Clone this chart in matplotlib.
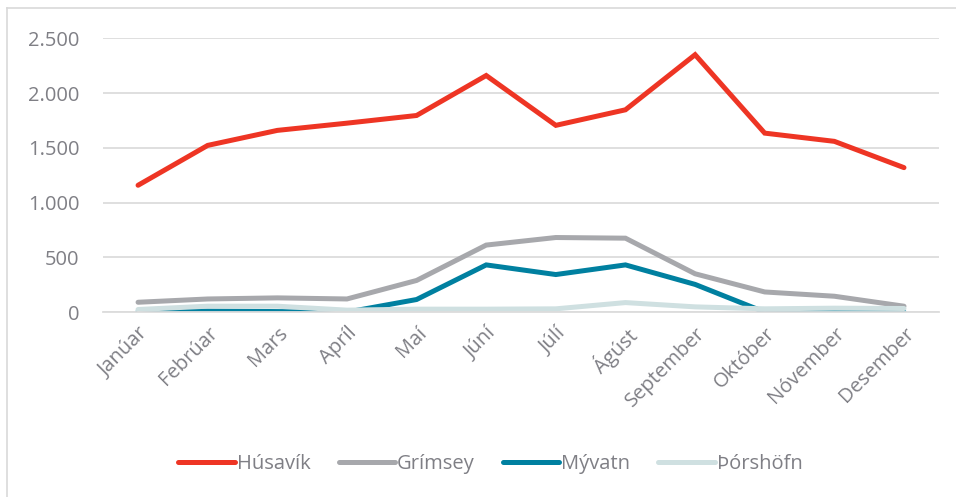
import matplotlib.pyplot as plt
from matplotlib.lines import Line2D
from matplotlib.ticker import FuncFormatter

# Monthly values for each place
months = ['Janúar', 'Febrúar', 'Mars', 'Apríl', 'Maí', 'Júní', 'Júlí',
          'Ágúst', 'September', 'Október', 'Nóvember', 'Desember']
husavik = [1158, 1522, 1659, 1725, 1795, 2160, 1705, 1847, 2350, 1634, 1559, 1319]
grimsey = [90, 120, 130, 120, 289, 612, 681, 675, 350, 184, 145, 54]
myvatn = [5, 10, 5, 0, 115, 431, 343, 431, 253, 0, 0, 0]
thorshofn = [24, 54, 54, 18, 27, 27, 30, 87, 48, 30, 36, 33]

series = [('Húsavík', husavik, '#ee3524'),
          ('Grímsey', grimsey, '#a7a8ac'),
          ('Mývatn', myvatn, '#0080a0'),
          ('Þórshöfn', thorshofn, '#cfe0e1')]

plt.rcParams['font.family'] = ['Open Sans', 'DejaVu Sans']
text_col = '#7f7f85'

fig = plt.figure(figsize=(9.56, 4.97), dpi=100)
ax = fig.add_axes([0.108, 0.372, 0.874, 0.551])

x = range(len(months))
for name, vals, col in series:
    ax.plot(x, vals, color=col, lw=3.6, label=name, solid_capstyle='round',
            solid_joinstyle='miter')

ax.set_xlim(-0.5, len(months) - 0.5)
ax.set_ylim(0, 2500)
ax.set_yticks([0, 500, 1000, 1500, 2000, 2500])
ax.yaxis.set_major_formatter(FuncFormatter(lambda v, p: f'{int(v):,}'.replace(',', '.')))
ax.set_xticks(list(x))
ax.set_xticklabels(months, rotation=45, ha='right', rotation_mode='anchor')

ax.grid(axis='y', color='#dcdcdc', lw=1.3)
ax.set_axisbelow(True)
for s in ['top', 'right', 'left']:
    ax.spines[s].set_visible(False)
ax.spines['bottom'].set_color('#dcdcdc')
ax.spines['bottom'].set_linewidth(1.3)
ax.tick_params(axis='both', length=0, colors=text_col, labelsize=14.5)
ax.tick_params(axis='y', pad=17)
ax.tick_params(axis='x', pad=8)

fig.legend(loc='center', bbox_to_anchor=(0.513, 0.066), ncol=4, frameon=False,
           fontsize=14.5, labelcolor=text_col, handlelength=2.8,
           handletextpad=0.1, columnspacing=1.4)

# light frame around the chart area
fig.add_artist(Line2D([7 / 956, 7 / 956], [0, 1 - 8 / 497], transform=fig.transFigure,
                      color='#d9d9d9', lw=1.2))
fig.add_artist(Line2D([7 / 956, 1], [1 - 8 / 497, 1 - 8 / 497], transform=fig.transFigure,
                      color='#d9d9d9', lw=1.2))

fig.savefig('out.png', dpi=100)
